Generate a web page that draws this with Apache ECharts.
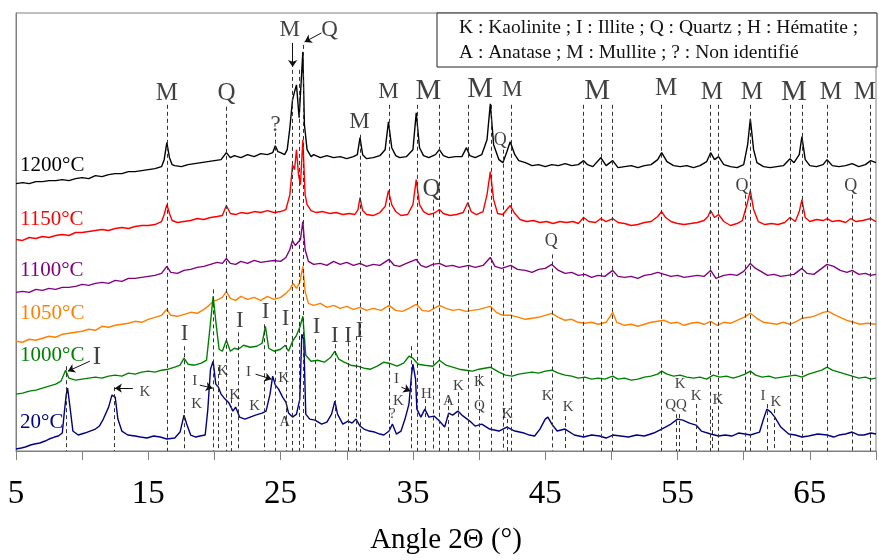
<!DOCTYPE html>
<html><head><meta charset="utf-8">
<script src="https://cdn.jsdelivr.net/npm/echarts@6/dist/echarts.min.js"></script>
<style>html,body{margin:0;padding:0;background:#fff}#c{width:879px;height:560px}</style>
</head><body><div id="c"></div>
<script>
// ---- DATA (2θ in degrees, stacked intensity in arbitrary units) ----
const xTickLabels = [5, 15, 25, 35, 45, 55, 65];
const curveNames = ['1200°C', '1150°C', '1100°C', '1050°C', '1000°C', '20°C'];

const curve1200 = [[5,268],[5.5,269],[6,268],[6.5,270],[7,270],[7.5,271],[8,271],[8.5,272],[9,271],[9.5,273],[10,274],[10.5,273],[11,276],[11.5,275],[12,277],[12.5,278],[13,278],[13.5,280],[14,280],[14.5,281],[15,282],[15.5,283],[16,285],[16.2,292],[16.4,309],[16.6,294],[16.8,287],[17,286],[17.5,285],[18,287],[18.5,288],[19,289],[19.5,290],[20,291],[20.5,292],[20.9,299],[21.2,294],[21.5,296],[22,294],[22.5,297],[23,295],[23.5,298],[24,297],[24.4,299],[24.6,306],[24.8,300],[25,299],[25.3,297],[25.5,302],[25.7,324],[25.9,352],[26.05,360],[26.2,367],[26.4,334],[26.55,332],[26.68,400],[26.8,327],[27,302],[27.3,295],[27.5,297],[28,294],[28.5,296],[29,294],[29.5,295],[30,293],[30.5,295],[30.8,297],[31,314],[31.2,297],[31.5,293],[32,294],[32.5,296],[32.9,302],[33.15,330],[33.4,304],[33.7,296],[34,294],[34.5,295],[35,302],[35.25,339],[35.5,304],[35.8,296],[36.2,294],[36.7,297],[37,302],[37.3,296],[37.7,294],[38.2,295],[38.7,295],[39.05,304],[39.3,296],[39.7,294],[40.2,297],[40.6,312],[40.85,348],[41.1,307],[41.5,292],[41.8,289],[42.1,300],[42.35,310],[42.7,297],[43,291],[43.5,289],[44,286],[44.5,287],[45,285],[45.5,287],[46,286],[46.5,288],[47,286],[47.5,287],[47.9,291],[48.2,287],[48.6,285],[49.2,294],[49.6,286],[50.1,291],[50.5,284],[51,285],[51.5,286],[52,284],[52.5,286],[53,287],[53.5,292],[53.8,299],[54.2,290],[54.7,286],[55.2,285],[55.7,286],[56.2,284],[56.7,286],[57.2,290],[57.5,299],[57.8,292],[58.1,295],[58.5,287],[59,285],[59.5,284],[60,287],[60.3,307],[60.5,333],[60.75,302],[61,289],[61.5,285],[62,284],[62.5,285],[63,286],[63.5,293],[63.8,289],[64.2,297],[64.4,315],[64.65,292],[65,286],[65.5,285],[66,287],[66.3,292],[66.7,286],[67.2,285],[67.7,286],[68.2,288],[68.7,285],[69.2,287],[69.6,291],[70,289]];

const curve1150 = [[5,212],[5.5,211],[6,214],[6.5,213],[7,215],[7.5,214],[8,216],[8.5,217],[9,216],[9.5,219],[10,219],[10.5,220],[11,221],[11.5,222],[12,221],[12.5,223],[13,224],[13.5,223],[14,225],[14.5,226],[15,226],[15.5,227],[16,230],[16.2,237],[16.4,247],[16.6,238],[16.8,231],[17.2,229],[17.7,230],[18.2,231],[18.7,233],[19.2,232],[19.7,234],[20.2,235],[20.6,236],[20.9,246],[21.2,238],[21.6,237],[22,239],[22.5,238],[23,240],[23.5,239],[24,241],[24.5,239],[25,240],[25.4,242],[25.7,257],[25.9,287],[26.05,282],[26.2,302],[26.35,277],[26.5,267],[26.68,312],[26.85,257],[27,247],[27.3,241],[27.7,239],[28.2,240],[28.7,238],[29.2,239],[29.7,237],[30.2,238],[30.6,237],[30.85,242],[31,254],[31.2,241],[31.5,237],[32,236],[32.5,239],[32.9,245],[33.15,261],[33.4,247],[33.7,240],[34.1,236],[34.6,237],[35,247],[35.25,272],[35.5,247],[35.8,240],[36.2,237],[36.5,238],[36.8,240],[37,242],[37.3,238],[37.8,236],[38.3,237],[38.8,239],[39.15,249],[39.4,240],[39.8,237],[40.3,240],[40.6,257],[40.85,280],[41.1,252],[41.4,238],[41.8,237],[42.1,242],[42.35,246],[42.7,238],[43.1,232],[43.6,230],[44.1,231],[44.6,229],[45.1,230],[45.6,228],[46.1,230],[46.6,229],[47.1,230],[47.5,228],[47.9,234],[48.3,230],[48.8,229],[49.2,233],[49.6,230],[50.1,233],[50.5,229],[51,228],[51.5,226],[52,227],[52.5,229],[53,230],[53.5,235],[53.8,240],[54.1,234],[54.5,230],[55,228],[55.5,227],[56,228],[56.5,229],[57,231],[57.3,235],[57.5,241],[57.8,234],[58.1,237],[58.5,230],[59,226],[59.5,228],[59.9,231],[60.25,247],[60.5,261],[60.75,242],[61.1,230],[61.6,227],[62.1,228],[62.6,227],[63.1,229],[63.5,234],[63.9,230],[64.2,240],[64.4,252],[64.65,234],[65,230],[65.5,232],[66,231],[66.3,233],[66.7,230],[67.2,231],[67.7,229],[68.1,233],[68.5,230],[69,231],[69.6,233],[70,230]];

const curve1100 = [[5,159],[5.5,160],[6,159],[6.5,162],[7,161],[7.5,163],[8,162],[8.5,164],[9,164],[9.5,165],[10,167],[10.5,166],[11,168],[11.5,169],[12,168],[12.5,171],[13,170],[13.5,173],[14,173],[14.5,174],[15,175],[15.5,176],[16,178],[16.4,185],[16.7,179],[17.2,178],[17.7,181],[18.2,182],[18.7,184],[19.2,185],[19.7,187],[20.2,189],[20.6,188],[20.9,193],[21.2,188],[21.6,187],[22,190],[22.5,188],[23,191],[23.5,189],[24,190],[24.5,191],[25,190],[25.4,194],[25.7,202],[25.9,211],[26.1,206],[26.3,209],[26.5,212],[26.68,230],[26.85,202],[27.1,190],[27.5,187],[28,188],[28.5,186],[29,190],[29.5,187],[30,189],[30.5,186],[31,188],[31.5,185],[32,187],[32.5,186],[33.2,192],[33.6,186],[34,185],[34.5,188],[35.25,192],[35.6,186],[36,184],[36.5,187],[37,188],[37.5,185],[38,186],[38.5,184],[39.2,186],[39.7,184],[40.3,186],[40.85,194],[41.2,185],[41.7,183],[42.4,186],[42.9,182],[43.5,181],[44,179],[44.5,182],[45,183],[45.5,187],[46,181],[46.5,178],[47,179],[47.5,176],[48,177],[48.5,174],[49,176],[49.5,175],[50.1,181],[50.5,175],[51,174],[51.5,175],[52,173],[52.5,176],[53,177],[53.5,179],[54,177],[54.5,175],[55,176],[55.5,174],[56,175],[56.5,176],[57,175],[57.5,181],[57.9,173],[58.5,176],[59,177],[59.5,176],[60,180],[60.5,188],[60.9,183],[61.3,180],[61.8,176],[62.3,177],[62.8,175],[63.3,176],[63.8,177],[64.4,183],[64.8,178],[65.3,177],[65.8,182],[66.3,187],[66.8,185],[67.3,181],[67.8,179],[68.2,181],[68.7,177],[69.2,178],[69.6,176],[70,177]];

const curve1050 = [[5,110],[5.5,109],[6,112],[6.5,111],[7,113],[7.5,115],[8,114],[8.5,117],[9,118],[9.5,119],[10,120],[10.5,122],[11,121],[11.5,125],[12,124],[12.5,126],[13,127],[13.5,128],[14,130],[14.5,129],[15,132],[15.5,134],[16,136],[16.4,142],[16.7,136],[17.2,135],[17.7,137],[18.2,139],[18.7,138],[19.2,142],[19.6,146],[19.9,150],[20.3,152],[20.6,154],[20.9,160],[21.2,153],[21.6,151],[22,155],[22.5,152],[23,154],[23.5,151],[24,155],[24.5,152],[25,154],[25.4,158],[25.7,162],[25.95,168],[26.2,163],[26.45,169],[26.68,185],[26.85,160],[27.1,148],[27.5,146],[28,148],[28.5,144],[29,146],[29.5,143],[30,145],[30.5,142],[31,144],[31.5,141],[32,143],[32.6,141],[33.2,146],[33.7,141],[34.2,140],[34.7,143],[35.25,147],[35.7,141],[36.2,140],[36.6,143],[37,146],[37.5,143],[38,141],[38.5,142],[39,140],[39.5,141],[40,142],[40.85,145],[41.3,139],[41.8,136],[42.4,136],[43,134],[43.5,132],[44,133],[44.5,134],[45,136],[45.5,138],[46,134],[46.5,131],[47,132],[47.5,129],[48,128],[48.5,129],[49,127],[49.6,129],[50.1,139],[50.4,129],[51,126],[51.5,127],[52,125],[52.5,127],[53,129],[53.5,130],[54,131],[54.5,128],[55,129],[55.5,126],[56,128],[56.5,129],[57,127],[57.5,130],[58,126],[58.5,129],[59,128],[59.5,131],[60,134],[60.5,138],[61,133],[61.5,129],[62,128],[62.5,127],[63,129],[63.5,127],[64,130],[64.4,133],[65,134],[65.5,136],[66,139],[66.4,140],[66.8,137],[67.3,134],[67.8,131],[68.3,129],[68.8,127],[69.3,128],[70,127]];

const curve1000 = [[5,57],[5.5,58],[6,60],[6.5,61],[7,63],[7.5,65],[8,67],[8.4,70],[8.75,81],[9,73],[9.5,71],[10,72],[10.5,73],[11,74],[11.5,73],[12,75],[12.5,76],[13,75],[13.5,78],[14,77],[14.5,79],[15,80],[15.5,79],[16,81],[16.5,82],[17,84],[17.4,86],[17.7,93],[18,87],[18.5,86],[19,88],[19.4,91],[19.65,122],[19.9,155],[20.1,130],[20.35,102],[20.6,100],[20.9,111],[21.2,100],[21.5,103],[21.8,102],[22.2,106],[22.7,104],[23.2,105],[23.6,108],[23.85,125],[24.1,103],[24.5,100],[25,102],[25.35,106],[25.6,100],[25.9,110],[26.2,116],[26.45,124],[26.68,135],[26.9,96],[27.3,90],[27.8,91],[28.3,89],[28.8,94],[29.1,100],[29.4,92],[29.8,89],[30.3,86],[30.8,85],[31.3,83],[31.8,82],[32.3,85],[32.8,89],[33.2,88],[33.8,85],[34.3,88],[34.7,95],[35,93],[35.4,87],[35.9,86],[36.5,85],[37,91],[37.5,86],[38,84],[38.5,82],[39,81],[39.5,80],[40,82],[40.85,84],[41.5,79],[42,76],[42.5,75],[43,77],[43.5,78],[44,79],[44.5,78],[45,80],[45.5,81],[46,78],[46.5,76],[47,75],[47.5,73],[48,74],[48.5,72],[49,73],[49.5,72],[50.1,75],[50.5,72],[51,73],[51.5,71],[52,72],[52.5,74],[53,75],[53.5,77],[53.8,80],[54.2,77],[54.7,75],[55.2,76],[55.7,74],[56.2,73],[56.7,74],[57.2,72],[57.7,76],[58.2,74],[58.7,75],[59.2,73],[59.7,75],[60.1,77],[60.5,80],[60.9,76],[61.4,74],[61.9,75],[62.4,73],[62.9,74],[63.4,75],[63.9,76],[64.4,74],[64.9,77],[65.4,79],[65.9,81],[66.3,84],[66.7,81],[67.2,79],[67.7,77],[68.2,75],[68.7,73],[69.2,74],[69.6,72],[70,73]];

const curve20 = [[5,2],[5.4,3],[5.7,4],[6.1,6],[6.4,7],[6.8,8],[7.2,10],[7.5,12],[7.9,14],[8.2,15],[8.5,18],[8.6,32],[8.8,57],[8.9,63],[9.1,42],[9.3,20],[9.7,16],[10.2,18],[10.6,20],[11,22],[11.3,25],[11.6,32],[12,44],[12.25,56],[12.5,54],[12.7,32],[13,20],[13.45,16],[14,15],[14.4,14],[14.9,13],[15.4,15],[15.9,14],[16.4,12],[17,13],[17.4,19],[17.7,36],[17.9,27],[18.2,16],[18.6,14],[18.9,15],[19.3,16],[19.5,42],[19.7,82],[19.9,90],[20.1,67],[20.3,64],[20.5,57],[20.8,52],[21.1,48],[21.4,40],[21.6,44],[21.9,34],[22.3,32],[22.7,34],[23.1,36],[23.6,38],[23.9,40],[24.2,57],[24.4,75],[24.6,66],[24.85,62],[25.15,54],[25.4,49],[25.6,38],[25.9,34],[26.2,37],[26.45,52],[26.6,117],[26.75,112],[26.9,37],[27.2,32],[27.6,31],[28.1,27],[28.5,29],[28.85,37],[29.1,50],[29.3,37],[29.7,27],[30.1,30],[30.4,28],[30.7,32],[31,25],[31.3,22],[31.7,20],[32.1,19],[32.5,17],[32.8,16],[33.2,20],[33.45,27],[33.75,17],[34.1,20],[34.4,32],[34.7,47],[34.9,77],[35,87],[35.2,72],[35.3,42],[35.6,34],[35.9,42],[36.2,34],[36.6,35],[37,30],[37.4,24],[37.7,38],[38,36],[38.4,40],[38.7,36],[39.3,30],[39.7,25],[40.2,27],[40.8,22],[41.5,20],[42.1,24],[42.7,20],[43.4,18],[43.8,16],[44.2,15],[44.6,22],[45,32],[45.2,34],[45.5,27],[45.9,20],[46.5,22],[47.2,16],[47.9,14],[48.5,16],[49.1,15],[49.6,13],[50.1,16],[50.7,15],[51.3,14],[51.9,16],[52.5,15],[53.2,18],[53.8,22],[54.5,27],[55,32],[55.4,31],[55.9,28],[56.4,26],[56.8,20],[57.5,17],[58.1,15],[58.6,16],[59.1,15],[59.6,18],[60.1,17],[60.5,16],[61.2,19],[61.5,32],[61.75,42],[62.05,39],[62.35,34],[62.8,24],[63.4,17],[63.9,16],[64.4,14],[64.9,15],[65.6,17],[66.3,16],[66.8,14],[67.2,16],[67.7,17],[68.2,19],[68.7,16],[69.1,16],[69.6,18],[70,17]];

// reference lines (2θ of identified reflections, top intensity of each line)
const refLines = [[8.8,85],[12.4,64],[16.4,347],[17.7,105],[19.9,162],[20.3,84],[20.92,345],[21.3,52],[21.8,119],[23.8,127],[24.6,319],[25.4,120],[25.9,382],[26.4,382],[26.7,407],[27.6,112],[29.1,107],[30.1,109],[30.7,115],[31.0,317],[33.2,347],[34.9,105],[35.3,347],[35.9,52],[36.5,252],[37.0,347],[37.7,52],[38.4,59],[39.2,347],[40.0,77],[40.9,347],[41.8,302],[42.1,32],[42.4,347],[45.5,197],[46.5,35],[47.9,347],[49.2,347],[50.1,347],[53.8,347],[54.9,37],[55.1,37],[56.4,47],[57.5,347],[57.65,42],[58.1,347],[60.1,257],[60.5,347],[61.8,47],[62.3,42],[63.5,347],[64.4,347],[66.3,347],[68.2,257],[69.6,347]];

// phase labels [2θ, intensity anchor, text], grouped by text size
const labelsLarge = [[36.17,360,'M'],[40.09,362,'M'],[48.92,360,'M'],[63.79,359,'M']];
const labelsMedium = [[16.40,358,'M'],[20.92,358,'Q'],[54.13,363,'M'],[57.60,359,'M'],[60.62,359,'M'],[66.58,359,'M'],[69.15,359,'M'],[36.40,262,'Q'],[11.11,94,'I']];
const labelsNormal = [[25.68,422,'M'],[28.70,422,'Q'],[30.96,330,'M'],[33.15,360,'M'],[42.51,362,'M'],[24.62,327,'?'],[17.75,117,'I'],[21.91,130,'I'],[23.87,139,'I'],[25.38,132,'I'],[27.72,124,'I'],[29.60,115,'I I'],[30.96,120,'I']];
const labelsSmallQ = [[41.60,311,'Q'],[45.45,210,'Q'],[59.87,265,'Q'],[68.09,265,'Q']];
const labelsTiny = [[14.74,59,'K'],[18.51,70,'I'],[18.66,47,'K'],[20.62,80,'K'],[21.53,56,'K'],[23.04,45,'K'],[22.58,79,'I'],[25.23,73,'K'],[25.30,29,'A'],[33.75,72,'I'],[33.91,50,'K'],[33.45,37,'?'],[36.02,57,'H'],[37.68,50,'A'],[38.43,65,'K'],[40.02,69,'K'],[40.02,45,'Q'],[42.13,37,'K'],[45.15,55,'K'],[46.74,44,'K'],[55.19,67,'K'],[54.89,46,'QQ'],[56.40,55,'K'],[58.06,51,'K'],[61.45,55,'I'],[62.43,49,'K']];
// arrows [from 2θ, from intensity, to 2θ, to intensity]
const arrows = [[25.91,409,25.91,385],[28.09,419,26.81,410],[10.58,90,8.92,80],[13.83,63,12.47,63],[18.89,66,19.87,63],[23.11,77,24.32,72],[34.13,64,34.81,60]];
const legendLines = ['K : Kaolinite ; I : Illite ; Q : Quartz ; H : Hématite ;', 'A : Anatase ; M : Mullite ; ? : Non identifié'];

// ---- CHART ----
const F = '"Liberation Serif", "Times New Roman", serif';
const colors = ['#000000', '#ff0000', '#800080', '#ff7f00', '#008000', '#000080'];
const curves = [curve1200, curve1150, curve1100, curve1050, curve1000, curve20];
const nameY = [165, 219, 270, 313, 355, 422];

function textSeries(arr, size) {
  return {
    type: 'scatter', silent: true, z: 6, symbolSize: 1,
    itemStyle: { color: 'rgba(0,0,0,0)' },
    data: arr.map(a => ({ value: [a[0], a[1]], name: a[2] })),
    label: { show: true, position: 'inside', formatter: p => p.name, fontFamily: F, fontSize: size, color: '#111' }
  };
}

const series = [];
series.push({
  type: 'line', data: [], silent: true, z: 1,
  markLine: {
    silent: true, symbol: ['none', 'none'], animation: false,
    label: { show: false },
    lineStyle: { type: [4, 3], color: '#333', width: 1 },
    emphasis: { disabled: true },
    data: refLines.map(l => [{ coord: [l[0], l[1]] }, { coord: [l[0], 0] }])
  }
});
curves.forEach((c, i) => {
  series.push({
    type: 'line', name: curveNames[i], data: c, showSymbol: false, symbol: 'none',
    lineStyle: { color: colors[i], width: 1.4 }, itemStyle: { color: colors[i] }, z: 3, silent: true
  });
});
series.push({
  type: 'line', data: [], silent: true, z: 7,
  markLine: {
    silent: true, symbol: ['none', 'arrow'], symbolSize: 7, animation: false,
    label: { show: false },
    lineStyle: { type: 'solid', color: '#111', width: 1 },
    emphasis: { disabled: true },
    data: arrows.map(a => [{ coord: [a[0], a[1]] }, { coord: [a[2], a[3]] }])
  }
});
series.push(textSeries(labelsLarge, 29));
series.push(textSeries(labelsMedium, 25));
series.push(textSeries(labelsNormal, 23));
series.push(textSeries(labelsSmallQ, 18));
series.push(textSeries(labelsTiny, 15));

const graphic = [
  { type: 'rect', z: 10, shape: { x: 437, y: 13, width: 440, height: 54 }, style: { fill: '#fff', stroke: '#222', lineWidth: 1 } },
  { type: 'text', z: 11, x: 459, y: 28, style: { text: legendLines[0], font: '19.5px ' + F, fill: '#111', verticalAlign: 'middle' } },
  { type: 'text', z: 11, x: 459, y: 53, style: { text: legendLines[1], font: '19.5px ' + F, fill: '#111', verticalAlign: 'middle' } }
];
curveNames.forEach((n, i) => {
  graphic.push({ type: 'text', z: 11, x: 20, y: nameY[i], style: { text: n, font: '21px ' + F, fill: colors[i], verticalAlign: 'middle' } });
});

const chart = echarts.init(document.getElementById('c'));
chart.setOption({
  animation: false,
  backgroundColor: '#fff',
  grid: { left: 16, right: 2, top: 13, bottom: 108, show: true, borderColor: '#808080', borderWidth: 1, containLabel: false },
  xAxis: {
    type: 'value', min: 5, max: 70, interval: 5,
    axisLine: { show: true, lineStyle: { color: '#808080', width: 1 } },
    axisTick: { show: true, inside: false, length: 9, lineStyle: { color: '#808080' } },
    splitLine: { show: false },
    axisLabel: {
      margin: 27, fontFamily: F, fontSize: 33, color: '#000',
      formatter: v => (xTickLabels.indexOf(v) >= 0 ? String(v) : '')
    },
    name: 'Angle 2Θ (°)', nameLocation: 'middle', nameGap: 75,
    nameTextStyle: { fontFamily: F, fontSize: 29, color: '#000' }
  },
  yAxis: {
    type: 'value', min: 0, max: 439,
    axisLine: { show: true, lineStyle: { color: '#808080', width: 1 } },
    axisTick: { show: false }, axisLabel: { show: false }, splitLine: { show: false }
  },
  graphic: graphic,
  series: series
});
</script>
</body></html>
